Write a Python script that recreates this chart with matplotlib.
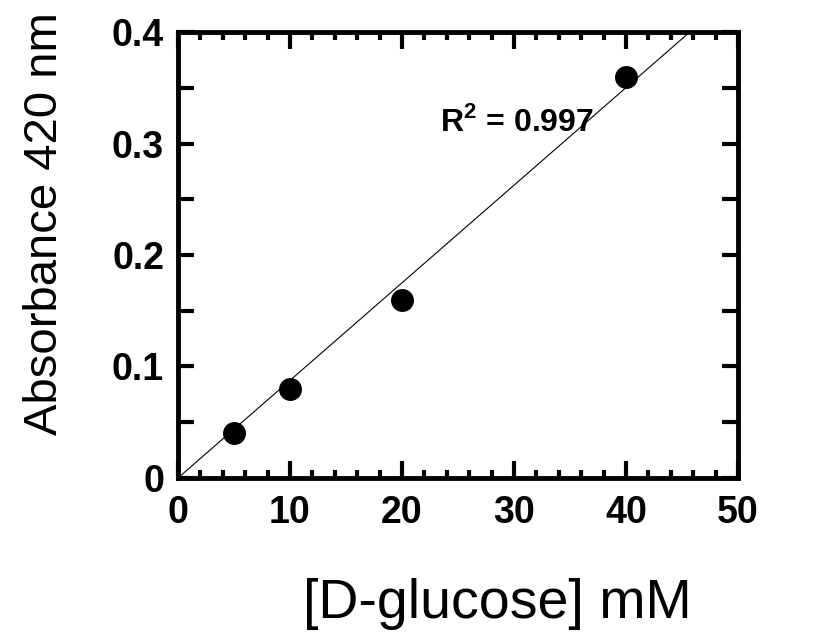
import numpy as np
import matplotlib.pyplot as plt
from matplotlib.ticker import MultipleLocator, FuncFormatter

# Curva de calibracion de D-glucosa
glucosa = np.array([5, 10, 20, 40])            # mM
absorbancia = np.array([0.04, 0.08, 0.16, 0.36])
r2_texto = 'R$^\\mathbf{2}$ = 0.997'

plt.rcParams['font.family'] = ['Liberation Sans', 'DejaVu Sans']
plt.rcParams['mathtext.fontset'] = 'custom'
plt.rcParams['mathtext.rm'] = 'Liberation Sans'
plt.rcParams['mathtext.bf'] = 'Liberation Sans:bold'

# ajuste lineal por el origen
pendiente = np.sum(glucosa * absorbancia) / np.sum(glucosa ** 2)

fig = plt.figure(figsize=(8.18, 6.33), dpi=100)
ax = fig.add_axes([0.2176, 0.2449, 0.6846, 0.7045])

xs = np.array([0, 50])
ax.plot(xs, pendiente * xs, c='black', lw=0.8, zorder=2)
ax.plot(glucosa, absorbancia, 'o', c='black', ms=15.5, zorder=3)

ax.set_xlim(0, 50)
ax.set_ylim(0, 0.4)

ax.xaxis.set_major_locator(MultipleLocator(10))
ax.xaxis.set_minor_locator(MultipleLocator(2))
ax.yaxis.set_major_locator(MultipleLocator(0.1))
ax.yaxis.set_minor_locator(MultipleLocator(0.05))
ax.yaxis.set_major_formatter(FuncFormatter(lambda v, p: '0' if abs(v) < 1e-9 else f'{v:.1f}'))

ax.tick_params(which='both', direction='in', top=True, right=True, width=3)
ax.tick_params(axis='x', which='major', length=12.5, pad=12, labelsize=27)
ax.tick_params(axis='x', which='minor', length=6)
ax.tick_params(axis='y', which='both', length=11.5, pad=10, labelsize=27)
for lab in ax.get_xticklabels() + ax.get_yticklabels():
    lab.set_fontweight('bold')

for sp in ax.spines.values():
    sp.set_linewidth(3.5)

ax.text(30.3, 0.319, r2_texto, ha='center', va='center', fontsize=23, fontweight='bold')

ax.set_xlabel('[D-glucose] mM', fontsize=40)
ax.set_ylabel('Absorbance 420 nm', fontsize=34)
ax.xaxis.set_label_coords(0.57, -0.225)
ax.yaxis.set_label_coords(-0.198, 0.57)

fig.savefig('out.png', dpi=100)
